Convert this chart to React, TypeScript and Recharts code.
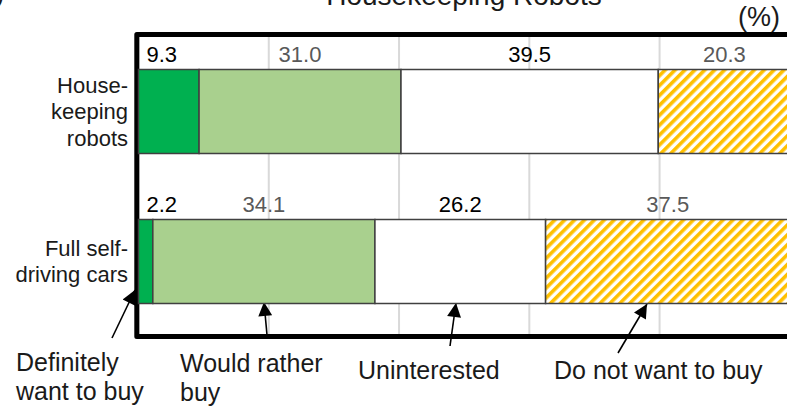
import React from 'react';
import { BarChart, Bar, XAxis, YAxis, CartesianGrid, LabelList, Customized } from 'recharts';

// Survey: purchase intention for two autonomous products (%)
const categories = ['House-\nkeeping\nrobots', 'Full self-\ndriving cars'];
const definitelyBuy = [9.3, 2.2];
const ratherBuy = [31.0, 34.1];
const uninterested = [39.5, 26.2];
const notBuy = [20.3, 37.5];
const xTicks = [0, 20, 40, 60, 80, 100];

const seriesNames = ['Definitely\nwant to buy', 'Would rather\nbuy', 'Uninterested', 'Do not want to buy'];

const data = categories.map((name, i) => ({
  name,
  definitelyBuy: definitelyBuy[i],
  ratherBuy: ratherBuy[i],
  uninterested: uninterested[i],
  notBuy: notBuy[i],
}));

const FONT = '"Liberation Sans", Arial, Helvetica, sans-serif';
const W = 800;
const H = 410;
const PLOT = { left: 138.5, top: 36.5, right: 790.5, bottom: 336.5 };

const CategoryTick = (props: any) => {
  const { y, payload } = props;
  const lines = String(payload.value).split('\n');
  const n = lines.length;
  return (
    <text textAnchor="end" fontSize={22} fontFamily={FONT} fill="#1a1a1a">
      {lines.map((l, i) => (
        <tspan key={i} x={128} y={Number(y) + 7.5 + (i - (n - 1) / 2) * 26.5}>
          {l}
        </tspan>
      ))}
    </text>
  );
};

const makeLabel = (color: string, atStart: boolean) => (props: any) => {
  const x = Number(props.x);
  const y = Number(props.y);
  const w = Number(props.width);
  return (
    <text
      x={atStart ? x + 8 : x + w / 2}
      y={y - 8}
      textAnchor={atStart ? 'start' : 'middle'}
      fontSize={22}
      fontFamily={FONT}
      fill={color}
    >
      {Number(props.value).toFixed(1)}
    </text>
  );
};

// Callout texts under the plot with arrows pointing at the lower bar
const callouts = [
  { lines: seriesNames[0].split('\n'), x: 16, y: 371, tail: [112, 338], tip: [135, 290] },
  { lines: seriesNames[1].split('\n'), x: 180, y: 371.5, tail: [267, 335], tip: [264, 302] },
  { lines: seriesNames[2].split('\n'), x: 358, y: 379, tail: [450, 346], tip: [456, 303] },
  { lines: seriesNames[3].split('\n'), x: 554, y: 379, tail: [618, 353], tip: [647, 304] },
];

const Overlay = () => (
  <g>
    <defs>
      <marker id="arrowHead" viewBox="0 0 10 10" refX="10" refY="5" markerWidth="16" markerHeight="14" markerUnits="userSpaceOnUse" orient="auto">
        <path d="M0,0 L10,5 L0,10 z" fill="#000" />
      </marker>
    </defs>
    {/* plot frame */}
    <rect
      x={PLOT.left - 1.7}
      y={PLOT.top - 2}
      width={PLOT.right + 2 - (PLOT.left - 1.7)}
      height={PLOT.bottom - (PLOT.top - 2)}
      fill="none"
      stroke="#000"
      strokeWidth={5}
      strokeLinejoin="round"
    />
    <text x={464} y={5} textAnchor="middle" fontSize={28} fontFamily={FONT} fill="#1a1a1a">
      Housekeeping Robots
    </text>
    <text x={4} y={3} textAnchor="end" fontSize={25} fontFamily={FONT} fill="#1a1a1a">
      )
    </text>
    <text x={780} y={26} textAnchor="end" fontSize={27} fontFamily={FONT} fill="#1a1a1a">
      (%)
    </text>
    {callouts.map((c, i) => (
      <g key={i}>
        <line
          x1={c.tail[0]}
          y1={c.tail[1]}
          x2={c.tip[0]}
          y2={c.tip[1]}
          stroke="#000"
          strokeWidth={1.6}
          markerEnd="url(#arrowHead)"
        />
        <text fontSize={25} fontFamily={FONT} fill="#1a1a1a">
          {c.lines.map((l, j) => (
            <tspan key={j} x={c.x} y={c.y + j * 29}>
              {l}
            </tspan>
          ))}
        </text>
      </g>
    ))}
  </g>
);

export default function App() {
  return (
    <div style={{ position: 'absolute', left: 0, top: 0, width: 787, height: 410, overflow: 'hidden', background: '#fff' }}>
      <BarChart
        width={W}
        height={H}
        data={data}
        layout="vertical"
        margin={{ top: PLOT.top, right: W - PLOT.right, bottom: H - PLOT.bottom, left: 0 }}
        style={{ fontFamily: FONT }}
      >
        <defs>
          <pattern id="hatchYellow" patternUnits="userSpaceOnUse" width="7" height="7" patternTransform="rotate(45)">
            <rect width="7" height="7" fill="#fff" />
            <rect x="0" y="0" width="3.6" height="7" fill="#FFC000" />
          </pattern>
        </defs>
        <CartesianGrid horizontal={false} vertical stroke="#d9d9d9" strokeWidth={2} />
        <XAxis type="number" domain={[0, 100]} ticks={xTicks} hide />
        <YAxis
          type="category"
          dataKey="name"
          width={PLOT.left}
          axisLine={false}
          tickLine={false}
          tick={<CategoryTick />}
        />
        <Bar dataKey="definitelyBuy" stackId="s" barSize={84} fill="#00B050" stroke="#404040" strokeWidth={1.5} isAnimationActive={false}>
          <LabelList dataKey="definitelyBuy" content={makeLabel('#000', true)} />
        </Bar>
        <Bar dataKey="ratherBuy" stackId="s" barSize={84} fill="#A9D08E" stroke="#404040" strokeWidth={1.5} isAnimationActive={false}>
          <LabelList dataKey="ratherBuy" content={makeLabel('#595959', false)} />
        </Bar>
        <Bar dataKey="uninterested" stackId="s" barSize={84} fill="#FFFFFF" stroke="#404040" strokeWidth={1.5} isAnimationActive={false}>
          <LabelList dataKey="uninterested" content={makeLabel('#000', false)} />
        </Bar>
        <Bar dataKey="notBuy" stackId="s" barSize={84} fill="url(#hatchYellow)" stroke="#404040" strokeWidth={1.5} isAnimationActive={false}>
          <LabelList dataKey="notBuy" content={makeLabel('#595959', false)} />
        </Bar>
        <Customized component={<Overlay />} />
      </BarChart>
    </div>
  );
}
